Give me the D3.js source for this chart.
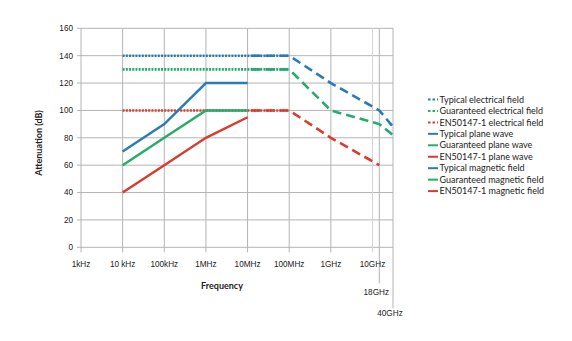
<!DOCTYPE html>
<html><head><meta charset="utf-8">
<script src="https://cdnjs.cloudflare.com/ajax/libs/d3/7.8.5/d3.min.js"></script>
<style>body{margin:0;background:#fff}svg{display:block}</style>
</head><body>
<svg id="c" width="572" height="341"></svg>
<script>
// ---- data ----
const tickFreqs = [1e3, 1e4, 1e5, 1e6, 1e7, 1e8, 1e9, 1e10, 1.8e10, 4e10];
const tickLabels = ["1kHz", "10 kHz", "100kHz", "1MHz", "10MHz", "100MHz", "1GHz", "10GHz", "18GHz", "40GHz"];
const yTicks = [0, 20, 40, 60, 80, 100, 120, 140, 160];

const elecFreqs = [1e4, 1e5, 1e6, 1e7, 1e8];
const typicalElectrical = [140, 140, 140, 140, 140];
const guaranteedElectrical = [130, 130, 130, 130, 130];
const enElectrical = [100, 100, 100, 100, 100];

const planeFreqs = [1e7, 1e8, 1e9, 1.8e10, 4e10];
const typicalPlane = [140, 140, 120, 100, 88];
const guaranteedPlane = [130, 130, 100, 90, 82];
const enPlane = [100, 100, 80, 60, null];

const magFreqs = [1e4, 1e5, 1e6, 1e7];
const typicalMagnetic = [70, 90, 120, 120];
const guaranteedMagnetic = [60, 80, 100, 100];
const enMagnetic = [40, 60, 80, 95];

const seriesNames = ["Typical electrical field", "Guaranteed electrical field", "EN50147-1 electrical field",
  "Typical plane wave", "Guaranteed plane wave", "EN50147-1 plane wave",
  "Typical magnetic field", "Guaranteed magnetic field", "EN50147-1 magnetic field"];

// ---- styles ----
const BLUE = "#2b7bb9", GREEN = "#25ab6b", RED = "#dd3a2f";
const GRID = "#b4b4b4";
const series = [
  {name: seriesNames[0], f: elecFreqs, v: typicalElectrical, c: BLUE, kind: "dot"},
  {name: seriesNames[1], f: elecFreqs, v: guaranteedElectrical, c: GREEN, kind: "dot"},
  {name: seriesNames[2], f: elecFreqs, v: enElectrical, c: RED, kind: "dot"},
  {name: seriesNames[3], f: planeFreqs, v: typicalPlane, c: BLUE, kind: "dash"},
  {name: seriesNames[4], f: planeFreqs, v: guaranteedPlane, c: GREEN, kind: "dash"},
  {name: seriesNames[5], f: planeFreqs, v: enPlane, c: RED, kind: "dash"},
  {name: seriesNames[6], f: magFreqs, v: typicalMagnetic, c: BLUE, kind: "solid"},
  {name: seriesNames[7], f: magFreqs, v: guaranteedMagnetic, c: GREEN, kind: "solid"},
  {name: seriesNames[8], f: magFreqs, v: enMagnetic, c: RED, kind: "solid"}
];

const svg = d3.select("#c");
const L = 81, R = 393, T = 28.3, B = 247.3;
const x = d3.scaleLog().domain([1e3, 1e10, 1.8e10, 4e10]).range([L, 372.5, 379.3, R]);
const y = d3.scaleLinear().domain([0, 160]).range([B, T]);

const g = svg.append("g");
// horizontal grid
g.selectAll(".hg").data(yTicks).join("line")
  .attr("x1", L).attr("x2", R).attr("y1", d => y(d)).attr("y2", d => y(d))
  .attr("stroke", GRID).attr("stroke-width", 1);
// vertical grid + ticks
const tickLen = [5, 5, 5, 5, 5, 5, 5, 5, 36, 61];
g.selectAll(".vg").data(tickFreqs).join("line")
  .attr("x1", d => x(d)).attr("x2", d => x(d))
  .attr("y1", T).attr("y2", (d, i) => B + tickLen[i])
  .attr("stroke", (d, i) => i === 7 ? "#d4d4d4" : GRID).attr("stroke-width", 1);
// y ticks
g.selectAll(".yt").data(yTicks).join("line")
  .attr("x1", L - 4).attr("x2", L).attr("y1", d => y(d)).attr("y2", d => y(d))
  .attr("stroke", GRID);
g.selectAll(".yl").data(yTicks).join("text")
  .attr("x", 73).attr("y", d => y(d)).attr("dy", "0.35em")
  .attr("text-anchor", "end").attr("font-family", "Liberation Sans, Arial, sans-serif")
  .attr("font-size", 8.2).attr("fill", "#222").text(d => d);
// x labels
const labelY = [267, 267, 267, 267, 267, 267, 267, 267, 295, 316];
const labelDx = [0, 0, 0, 0, 0, 0, 0, 0, -3, -3];
g.selectAll(".xl").data(tickFreqs).join("text")
  .attr("x", (d, i) => x(d) + labelDx[i]).attr("y", (d, i) => labelY[i])
  .attr("text-anchor", "middle").attr("font-family", "Liberation Sans, Arial, sans-serif")
  .attr("font-size", 8.2).attr("fill", "#222").text((d, i) => tickLabels[i]);

// axis titles
svg.append("text").attr("transform", "translate(42,143) rotate(-90)")
  .attr("text-anchor", "middle").attr("font-family", "Lato, sans-serif").attr("font-weight", "bold")
  .attr("font-size", 9).attr("fill", "#222").text("Attenuation (dB)");
svg.append("text").attr("x", 222).attr("y", 289)
  .attr("text-anchor", "middle").attr("font-family", "Lato, sans-serif").attr("font-weight", "bold")
  .attr("font-size", 9).attr("fill", "#222").text("Frequency");

// lines
const line = d3.line().defined(d => d[1] != null).x(d => x(d[0])).y(d => y(d[1]));
const order = [3, 4, 5, 0, 1, 2, 6, 7, 8];
order.forEach(i => {
  const s = series[i];
  const pts = s.f.map((f, k) => [f, s.v[k]]);
  svg.append("path").attr("d", line(pts)).attr("fill", "none")
    .attr("stroke", s.c)
    .attr("stroke-width", s.kind === "solid" ? 2.4 : 2.6)
    .attr("stroke-dasharray", s.kind === "dot" ? "2,1.2" : s.kind === "dash" ? "9,5" : null)
    .attr("stroke-dashoffset", s.kind === "dash" ? -18 : 0);
});

// legend
const lg = svg.append("g");
series.forEach((s, i) => {
  const yy = 99.5 + i * 11.45;
  lg.append("line").attr("x1", 428).attr("x2", 438).attr("y1", yy).attr("y2", yy)
    .attr("stroke", s.c).attr("stroke-width", 2)
    .attr("stroke-dasharray", s.kind === "dot" ? "2.5,2" : null);
  lg.append("text").attr("x", 439.5).attr("y", yy).attr("dy", "0.35em")
    .attr("font-family", "Lato, sans-serif").attr("font-size", 9).attr("fill", "#222").text(s.name);
});
</script>
</body></html>
